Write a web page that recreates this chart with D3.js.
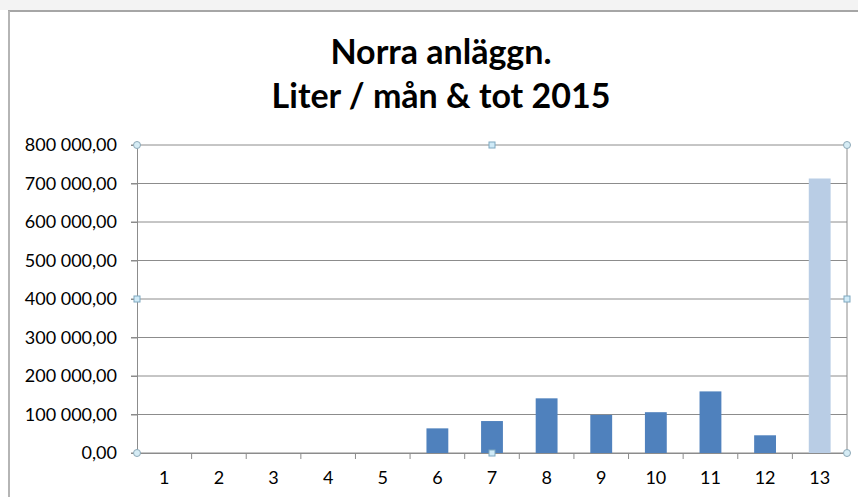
<!DOCTYPE html>
<html>
<head>
<meta charset="utf-8">
<script src="https://cdn.jsdelivr.net/npm/d3@7"></script>
<style>
  body { margin: 0; background: #fff; }
  svg { display: block; }
</style>
</head>
<body>
<svg id="chart" width="858" height="497"></svg>
<script>
// data
const months = ["1", "2", "3", "4", "5", "6", "7", "8", "9", "10", "11", "12", "13"];
const liters = [0, 0, 0, 0, 0, 64000, 83000, 142000, 99000, 106000, 160000, 46000, 713000];
const yTicks = [0, 100000, 200000, 300000, 400000, 500000, 600000, 700000, 800000];
const titleLines = ["Norra anläggn.", "Liter / mån & tot 2015"];

const svg = d3.select("#chart");
const W = 858, H = 497;
let margin = {top: 145, right: 11, bottom: 44, left: 137};
let w = W - margin.left - margin.right, h = H - margin.top - margin.bottom;

// spreadsheet strip + chart frame
svg.append("rect").attr("x", 0).attr("y", 0).attr("width", W).attr("height", 10).attr("fill", "#f3f3f3");
svg.append("line").attr("x1", 8).attr("x2", W).attr("y1", 11).attr("y2", 11).attr("stroke", "#a6a6a6").attr("stroke-width", 2);
svg.append("line").attr("x1", 9).attr("x2", 9).attr("y1", 11).attr("y2", H).attr("stroke", "#b5b5b5").attr("stroke-width", 2);

// title
svg.append("text")
  .attr("x", 441).attr("y", 64)
  .attr("text-anchor", "middle")
  .style("font-family", "Lato, 'Open Sans', sans-serif")
  .style("font-weight", "bold")
  .style("font-size", "34px")
  .selectAll("tspan").data(titleLines).join("tspan")
  .attr("x", 441).attr("dy", (d, i) => i === 0 ? 0 : 44)
  .text(d => d);

const g = svg.append("g").attr("transform", `translate(${margin.left}, ${margin.top})`);

const x_scale = d3.scaleBand().domain(months).range([0, w]).paddingInner(0.6).paddingOuter(0.3);
const y_scale = d3.scaleLinear().domain([0, 800000]).range([h, 0]);

const fmt = v => d3.format(",.2f")(v).replace(/,/g, " ").replace(".", ",");

// gridlines
g.selectAll(".grid").data(yTicks).join("line")
  .attr("class", "grid")
  .attr("x1", -6).attr("x2", w)
  .attr("y1", d => y_scale(d)).attr("y2", d => y_scale(d))
  .attr("stroke", "#8c8c8c").attr("stroke-width", 1);

// y axis
const yAxis = g.append("g").call(d3.axisLeft(y_scale).tickValues(yTicks).tickFormat(fmt).tickSize(6).tickPadding(14));
yAxis.select(".domain").attr("stroke", "#8c8c8c");
yAxis.selectAll(".tick line").attr("stroke", "#8c8c8c");
yAxis.selectAll("text").style("font-family", "Lato, sans-serif").style("font-size", "18px").attr("fill", "#000");

// right border of plot
g.append("line").attr("x1", w).attr("x2", w).attr("y1", 0).attr("y2", h).attr("stroke", "#8c8c8c");

// bars
g.selectAll(".bar").data(liters).join("rect")
  .attr("class", "bar")
  .attr("x", (d, i) => x_scale(months[i]))
  .attr("y", d => y_scale(d))
  .attr("width", x_scale.bandwidth())
  .attr("height", d => h - y_scale(d))
  .attr("fill", (d, i) => i === months.length - 1 ? "#b9cde5" : "#4f81bd");

// x axis
const step = w / months.length;
const xAxis = g.append("g").attr("transform", `translate(0, ${h})`)
  .call(d3.axisBottom(x_scale).tickSize(0).tickPadding(18));
xAxis.select(".domain").attr("stroke", "#8c8c8c");
xAxis.selectAll("text").style("font-family", "Lato, sans-serif").style("font-size", "18px").attr("fill", "#000");
g.selectAll(".xtick").data(d3.range(1, months.length)).join("line")
  .attr("class", "xtick")
  .attr("x1", d => d * step).attr("x2", d => d * step)
  .attr("y1", h).attr("y2", h + 6)
  .attr("stroke", "#8c8c8c");

// selection handles
const corners = [[0, 0], [w, 0], [0, h], [w, h]];
const mids = [[w / 2, 0], [w / 2, h], [0, h / 2], [w, h / 2]];
g.selectAll(".hc").data(corners).join("circle")
  .attr("cx", d => d[0]).attr("cy", d => d[1]).attr("r", 3.5)
  .attr("fill", "#d6ecf5").attr("stroke", "#8ea9b8");
g.selectAll(".hm").data(mids).join("rect")
  .attr("x", d => d[0] - 3).attr("y", d => d[1] - 3).attr("width", 6).attr("height", 6)
  .attr("fill", "#cfeaf7").attr("stroke", "#7ea8c0");
</script>
</body>
</html>
